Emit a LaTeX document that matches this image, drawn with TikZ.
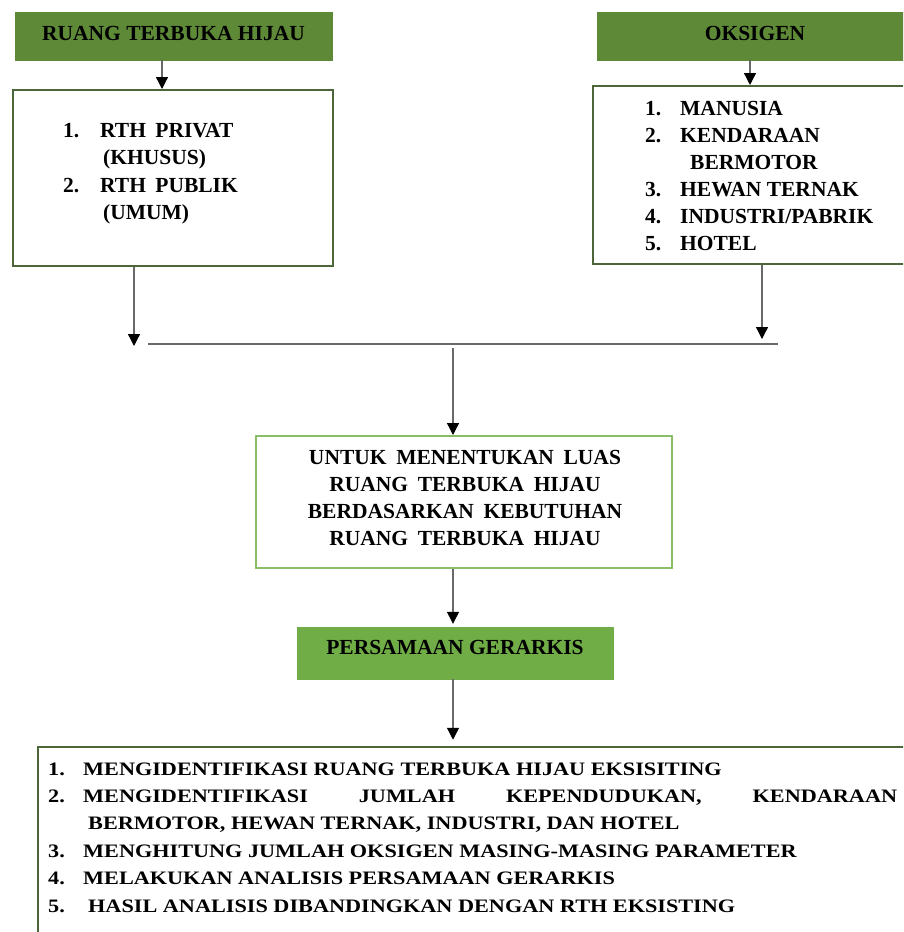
\documentclass[tikz,border=0pt]{standalone}
\usepackage{fontspec}
\setmainfont{Liberation Serif}
\newfontfamily\lebar[FakeStretch=1.17]{Liberation Serif}
\usepackage{tikz}
\usetikzlibrary{arrows.meta}

\definecolor{hijautua}{RGB}{94,138,56}
\definecolor{hijaumuda}{RGB}{112,173,71}
\definecolor{garishijau}{RGB}{76,102,58}
\definecolor{garismuda}{RGB}{138,190,102}
\definecolor{garis}{RGB}{105,105,105}

\tikzset{
judul/.style={fill=hijautua, draw=hijautua, inner sep=0pt, font=\fontsize{21.5}{26}\selectfont\bfseries, text height=14pt, text depth=6pt},
kotak/.style={draw=garishijau, line width=2pt, fill=white, inner sep=0pt},
daftar/.style={anchor=base west, inner sep=0pt, font=\fontsize{21.5}{27.5}\selectfont\bfseries},
panah/.style={draw=garis, line width=1.3pt, -{Triangle[width=12pt,length=12pt,color=black]}},
}

\begin{document}
\begin{tikzpicture} [x=1pt,y=-1pt]
\clip (0,0) rectangle (903,932);
\fill[white] (0,0) rectangle (903,932);

\node[judul, minimum width=317pt, minimum height=48pt] (rthjudul) at (173.5,36) {RUANG TERBUKA HIJAU};
\node[judul, minimum width=316pt, minimum height=48pt] (oksjudul) at (755,36) {OKSIGEN};

\node[kotak, minimum width=320pt, minimum height=176pt] (rthkotak) at (173,178) {};
\node[kotak, minimum width=320pt, minimum height=178pt] (okskotak) at (753,175) {};

\node[daftar] (rthisi) at (63,137) {\begin{tabular}[t]{@{}p{37pt}@{}l@{}}
1. & RTH\hspace{4pt} PRIVAT\\
   & \hspace{3pt}(KHUSUS)\\
2. & RTH\hspace{4pt} PUBLIK\\
   & \hspace{3pt}(UMUM)
\end{tabular}};

\node[daftar, font=\fontsize{21.5}{27}\selectfont\bfseries] (oksisi) at (645,115) {\begin{tabular}[t]{@{}p{35pt}@{}l@{}}
1. & MANUSIA\\
2. & KENDARAAN\\
   & \hspace{10pt}BERMOTOR\\
3. & HEWAN TERNAK\\
4. & INDUSTRI/PABRIK\\
5. & HOTEL
\end{tabular}};

\coordinate (kiri) at (134,346);
\coordinate (kanan) at (762,339);
\coordinate (garisA) at (148,344);
\coordinate (garisB) at (778,344);
\coordinate (tengah) at (453,348);

\draw[panah] ([xshift=-11.5pt]rthjudul.south) -- ([xshift=-11pt]rthkotak.north);
\draw[panah] ([xshift=-5pt]oksjudul.south) -- ([xshift=-3pt]okskotak.north);
\draw[panah] ([xshift=-39pt]rthkotak.south) -- (kiri);
\draw[panah] ([xshift=9pt]okskotak.south) -- (kanan);
\draw[draw=garis, line width=1.3pt] (garisA) -- (garisB);

\node[kotak, draw=garismuda, minimum width=416pt, minimum height=132pt] (tujuan) at (464,502) {};
\node[anchor=base, inner sep=0pt, font=\fontsize{21.5}{27}\selectfont\bfseries] (tujuanisi) at (465,464) {\spaceskip=0.45em\relax
\begin{tabular}[t]{@{}c@{}}
UNTUK MENENTUKAN LUAS\\
RUANG TERBUKA HIJAU\\
BERDASARKAN KEBUTUHAN\\
RUANG TERBUKA HIJAU
\end{tabular}};
\draw[panah] (tengah) -- ([xshift=-11pt]tujuan.north);

\node[judul, fill=hijaumuda, draw=hijaumuda, minimum width=316pt, minimum height=52pt, text depth=12pt] (gerarkis) at (455,653) {PERSAMAAN GERARKIS};
\draw[panah, shorten >=3pt] ([xshift=-11pt]tujuan.south) -- ([xshift=-2pt]gerarkis.north);

\node[kotak, line width=2.5pt, minimum width=875pt, minimum height=200pt] (langkah) at (475.5,847) {};
\draw[panah, shorten >=6pt] ([xshift=-2pt]gerarkis.south) -- ([xshift=-22.5pt]langkah.north);

\node[anchor=base west, inner sep=0pt, font=\lebar\fontsize{19}{27.4}\selectfont\bfseries] (langkahisi) at (48,775) {\begin{tabular}[t]{@{}p{35pt}@{}l@{}}
1. & MENGIDENTIFIKASI RUANG TERBUKA HIJAU EKSISITING\\
2. & \makebox[814pt][s]{MENGIDENTIFIKASI JUMLAH KEPENDUDUKAN, KENDARAAN}\\
   & \hspace{5pt}BERMOTOR, HEWAN TERNAK, INDUSTRI, DAN HOTEL\\
3. & MENGHITUNG JUMLAH OKSIGEN MASING-MASING PARAMETER\\
4. & MELAKUKAN ANALISIS PERSAMAAN GERARKIS\\
5. & \hspace{5pt}HASIL ANALISIS DIBANDINGKAN DENGAN RTH EKSISTING
\end{tabular}};

\end{tikzpicture}
\end{document}
